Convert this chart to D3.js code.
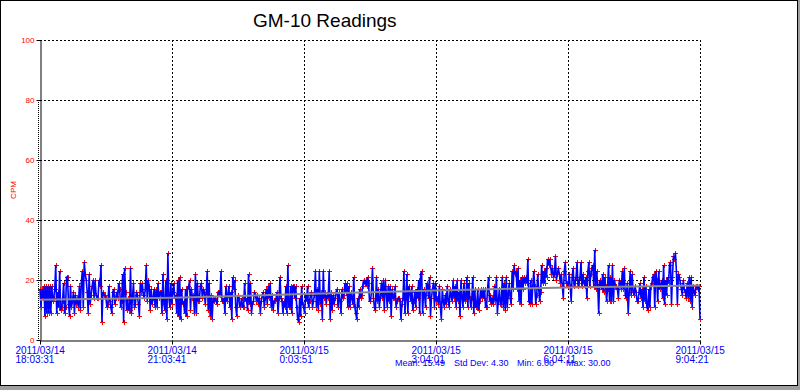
<!DOCTYPE html>
<html>
<head>
<meta charset="utf-8">
<script src="https://cdn.jsdelivr.net/npm/d3@7"></script>
<style>
body { margin: 0; background: #fff; }
svg { display: block; }
text { font-family: "Liberation Sans", Arial, sans-serif; }
</style>
</head>
<body>
<svg width="800" height="390"></svg>
<script>
var title = "GM-10 Readings";
var yLabel = "CPM";
var yTicks = [0, 20, 40, 60, 80, 100];
var tickTimes = ["2011/03/14 18:03:31", "2011/03/14 21:03:41", "2011/03/15 0:03:51",
                 "2011/03/15 3:04:01", "2011/03/15 6:04:11", "2011/03/15 9:04:21"];
var stats = ["Mean: 15.49", "Std Dev: 4.30", "Min: 6.00", "Max: 30.00"];
// gray average line, read at each tick time
var trend = [13.4, 14.1, 15.3, 16.5, 17.5, 18.2];

// readings, counts per minute, in time order
var cpm = [
  17,11,17,14,18,8,18,9,18,9,18,9,18,13,14,17,25,9,16,11,23,10,11,13,19,9,11,21,21,12,8,18,11,13,16,9,15,12,14,11,
  18,10,19,23,11,26,22,20,16,9,22,12,15,18,20,14,20,15,14,14,20,18,25,6,16,15,15,14,11,12,18,13,11,9,16,17,12,14,16,14,
  19,17,11,13,22,6,24,16,10,14,10,10,24,9,14,19,11,12,16,15,12,8,19,16,19,15,14,17,25,13,20,18,10,17,12,14,17,11,17,11,
  19,14,16,16,9,22,12,10,20,7,29,14,11,19,12,16,19,14,15,9,20,8,21,7,17,12,13,9,17,8,18,17,20,10,
  17,14,15,9,22,9,19,13,13,18,19,14,17,16,12,16,23,10,19,8,15,7,14,13,14,13,12,16,16,15,23,13,13,14,9,18,13,15,18,11,
  16,7,21,17,20,11,8,15,14,11,12,14,11,11,19,13,14,10,22,12,19,9,12,13,16,15,13,15,12,14,9,13,15,16,11,14,17,12,18,14,
  19,11,15,10,13,13,14,16,9,14,21,14,13,9,13,11,18,9,25,11,11,18,9,18,18,14,18,11,7,6,14,8,18,12,11,9,15,13,18,11,
  13,15,16,11,13,15,23,11,17,10,23,12,16,7,23,14,16,12,15,14,23,7,16,10,15,12,14,16,17,11,16,13,9,17,14,15,19,16,19,11,
  18,11,16,14,12,21,11,9,7,14,11,17,14,15,18,20,19,20,18,21,19,13,13,16,24,14,11,10,21,13,17,11,14,19,14,20,10,20,16,11,
  18,13,18,8,17,14,14,18,11,13,14,14,13,7,12,14,23,9,14,22,9,18,16,13,18,10,13,16,11,17,14,20,9,22,23,9,17,15,11,19,
  18,14,21,8,14,17,19,11,19,13,14,12,18,11,7,17,13,11,15,12,18,13,11,17,15,13,20,14,18,11,20,13,16,8,20,14,11,19,13,14,
  21,11,19,14,11,14,21,9,17,11,11,17,10,13,17,14,17,14,17,11,11,17,21,13,15,12,14,12,18,13,21,9,13,17,12,12,21,11,19,10,
  21,11,15,19,14,12,23,17,25,22,
  23,17,24,13,20,12,21,17,21,19,21,19,27,13,12,20,12,18,23,18,12,15,22,17,13,16,25,19,23,19,24,21,27,25,27,25,22,24,21,22,
  28,20,22,24,22,19,22,18,14,23,26,19,19,18,22,18,13,21,24,18,19,21,26,18,19,21,26,18,22,19,18,21,14,23,26,18,22,24,25,18,
  30,17,23,18,9,20,19,17,22,16,21,18,13,17,25,13,21,13,25,13,20,18,18,17,14,20,19,17,23,17,24,15,14,19,9,16,23,15,22,16,
  15,18,16,13,13,16,19,14,17,11,21,13,18,11,10,17,11,18,19,21,22,11,23,20,13,23,17,18,20,14,25,12,20,15,21,19,25,26,12,21,
  28,27,29,23,12,22,21,19,17,15,20,17,16,14,19,14,21,13,21,11,18,16,15,18,18,17,18,7
];

var parse = d3.timeParse("%Y/%m/%d %H:%M:%S");
var times = tickTimes.map(parse);
var t0 = +times[0], t1 = +times[times.length - 1];
var readTime = function(i) { return new Date(t0 + i * (t1 - t0) / (cpm.length - 1)); };

var svg = d3.select("svg");

// window frame, drawn first so the chart sits on top
svg.append("rect").attr("x", 0.5).attr("y", 0.5).attr("width", 797).attr("height", 385)
    .attr("fill", "#fff").attr("stroke", "#000");
svg.append("rect").attr("x", 798).attr("y", 0).attr("width", 2).attr("height", 390).attr("fill", "#a0a0a0");
svg.append("rect").attr("x", 0).attr("y", 386).attr("width", 800).attr("height", 4).attr("fill", "#a0a0a0");

var margin = {top: 40, right: 100, bottom: 50, left: 40},
    width = +svg.attr("width") - margin.left - margin.right,
    height = +svg.attr("height") - margin.top - margin.bottom,
    g = svg.append("g").attr("transform", "translate(" + margin.left + "," + margin.top + ")");

var x = d3.scaleTime()
    .domain([times[0], times[times.length - 1]])
    .range([0, width]);

var y = d3.scaleLinear()
    .domain([0, 100])
    .range([height, 0]);

// dotted grid
g.selectAll(".hgrid")
  .data(yTicks.slice(1))
  .enter().append("line")
    .attr("x1", 0).attr("x2", width)
    .attr("y1", function(d) { return Math.round(y(d)) + 0.5; })
    .attr("y2", function(d) { return Math.round(y(d)) + 0.5; })
    .attr("stroke", "#000").attr("stroke-dasharray", "2,2");

g.selectAll(".vgrid")
  .data(times.slice(1))
  .enter().append("line")
    .attr("x1", function(d) { return Math.round(x(d)) + 0.5; })
    .attr("x2", function(d) { return Math.round(x(d)) + 0.5; })
    .attr("y1", 0).attr("y2", height)
    .attr("stroke", "#000").attr("stroke-dasharray", "2,2");

// little dotted strip left of the y axis
g.append("line")
    .attr("x1", -1.5).attr("x2", -1.5)
    .attr("y1", y(80)).attr("y2", height)
    .attr("stroke", "#000").attr("stroke-dasharray", "1,1");

// axes
var yAxis = g.append("g")
    .attr("transform", "translate(0.5,0)")
    .call(d3.axisLeft(y).tickValues(yTicks).tickSize(4).tickSizeOuter(0).tickPadding(2));
yAxis.selectAll("text").attr("fill", "#ff0000").style("font-size", "8px");

var xAxis = g.append("g")
    .attr("transform", "translate(0," + (height + 0.5) + ")")
    .call(d3.axisBottom(x).tickValues(times).tickSize(4).tickSizeOuter(0));
xAxis.selectAll(".tick text").remove();
xAxis.selectAll(".tick").each(function(d, i) {
  var parts = tickTimes[i].split(" ");
  var t = d3.select(this).append("text")
      .attr("fill", "#0000ff")
      .attr("text-anchor", "start")
      .style("font-size", "10px");
  t.append("tspan").attr("x", -25).attr("y", 13).text(parts[0]);
  t.append("tspan").attr("x", -25).attr("y", 22).text(parts[1]);
});
g.selectAll(".domain").attr("stroke", "#000");

// red + markers go under the blue line, so only the tips show
var marks = cpm.map(function(d, i) {
  var cx = Math.round(x(readTime(i))) + 0.5, cy = Math.round(y(d)) + 0.5;
  return "M" + (cx - 2.5) + "," + cy + "H" + (cx + 2.5) + "M" + cx + "," + (cy - 2.5) + "V" + (cy + 2.5);
}).join("");
g.append("path").attr("d", marks).attr("stroke", "#ff0000").attr("fill", "none");

var line = d3.line()
    .x(function(d, i) { return x(readTime(i)); })
    .y(function(d) { return y(d); });

g.append("path")
    .datum(cpm)
    .attr("fill", "none")
    .attr("stroke", "#0000ff")
    .attr("stroke-width", 1.6)
    .attr("d", line);

g.append("path")
    .datum(trend)
    .attr("fill", "none")
    .attr("stroke", "#888888")
    .attr("stroke-width", 2)
    .attr("d", d3.line()
      .x(function(d, i) { return x(times[i]); })
      .y(function(d) { return y(d); }));

// texts
svg.append("text").attr("x", 253).attr("y", 27)
    .style("font-size", "19px").attr("fill", "#000").text(title);

svg.append("text")
    .attr("transform", "translate(16,190) rotate(-90)")
    .attr("text-anchor", "middle")
    .attr("fill", "#ff0000").style("font-size", "8px")
    .text(yLabel);

var statX = [395, 454, 517, 566];
svg.selectAll(".stat")
  .data(stats)
  .enter().append("text")
    .attr("x", function(d, i) { return statX[i]; })
    .attr("y", 366)
    .attr("fill", "#0000ff").style("font-size", "9px")
    .text(function(d) { return d; });
</script>
</body>
</html>
